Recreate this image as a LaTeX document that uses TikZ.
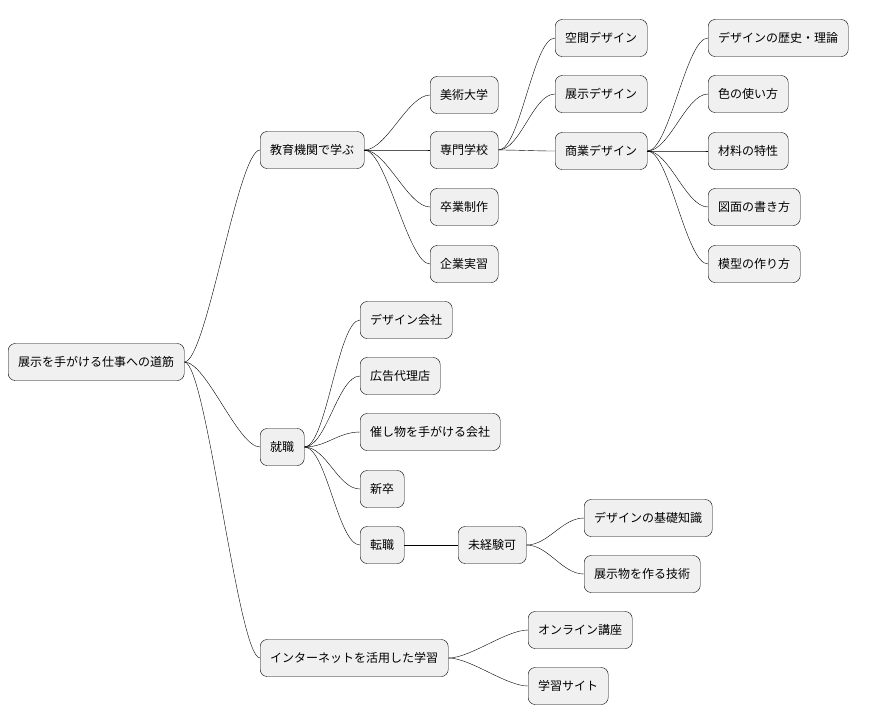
\documentclass[tikz,border=0pt]{standalone}
\usepackage{fontspec}
\setmainfont{Noto Sans CJK JP}
\begin{document}
\begin{tikzpicture}[x=1pt,y=-1pt,thin,box/.style={draw,fill=gray!12,rounded corners=7pt,anchor=west,minimum height=37pt,inner xsep=10pt,font=\fontsize{12}{14}\selectfont},link/.style={draw}]
\useasboundingbox (0,0) rectangle (880,724);

\node[box] (root) at (8,362) {展示を手がける仕事への道筋};

\node[box] (edu) at (260,150) {教育機関で学ぶ};
\node[box] (bidai) at (430,95) {美術大学};
\node[box] (senmon) at (430,150) {専門学校};
\node[box] (sotsu) at (430,207) {卒業制作};
\node[box] (kigyo) at (430,264) {企業実習};
\node[box] (kukan) at (555,38) {空間デザイン};
\node[box] (tenji) at (555,94) {展示デザイン};
\node[box] (shogyo) at (555,151) {商業デザイン};
\node[box] (rekishi) at (708,38) {デザインの歴史・理論};
\node[box] (iro) at (708,94) {色の使い方};
\node[box] (zairyo) at (708,151) {材料の特性};
\node[box] (zumen) at (708,207) {図面の書き方};
\node[box] (mokei) at (708,264) {模型の作り方};

\node[box] (shoku) at (260,447) {就職};
\node[box] (dsha) at (360,320) {デザイン会社};
\node[box] (kokoku) at (360,376) {広告代理店};
\node[box] (moyo) at (360,432) {催し物を手がける会社};
\node[box] (shinsotsu) at (360,489) {新卒};
\node[box] (tenshoku) at (360,545) {転職};
\node[box] (mikei) at (458,545) {未経験可};
\node[box] (kiso) at (584,518) {デザインの基礎知識};
\node[box] (gijutsu) at (584,574) {展示物を作る技術};

\node[box] (net) at (260,658) {インターネットを活用した学習};
\node[box] (online) at (528,630) {オンライン講座};
\node[box] (site) at (528,686) {学習サイト};

% connectors
\foreach \a/\b in {root/edu,root/shoku,root/net,
  edu/bidai,edu/senmon,edu/sotsu,edu/kigyo,
  senmon/kukan,senmon/tenji,senmon/shogyo,
  shogyo/rekishi,shogyo/iro,shogyo/zairyo,shogyo/zumen,shogyo/mokei,
  shoku/dsha,shoku/kokoku,shoku/moyo,shoku/shinsotsu,shoku/tenshoku,
  tenshoku/mikei,mikei/kiso,mikei/gijutsu,
  net/online,net/site}
  \draw[link] (\a.east) .. controls +(22,0) and +(-22,0) .. (\b.west);
\end{tikzpicture}
\end{document}
